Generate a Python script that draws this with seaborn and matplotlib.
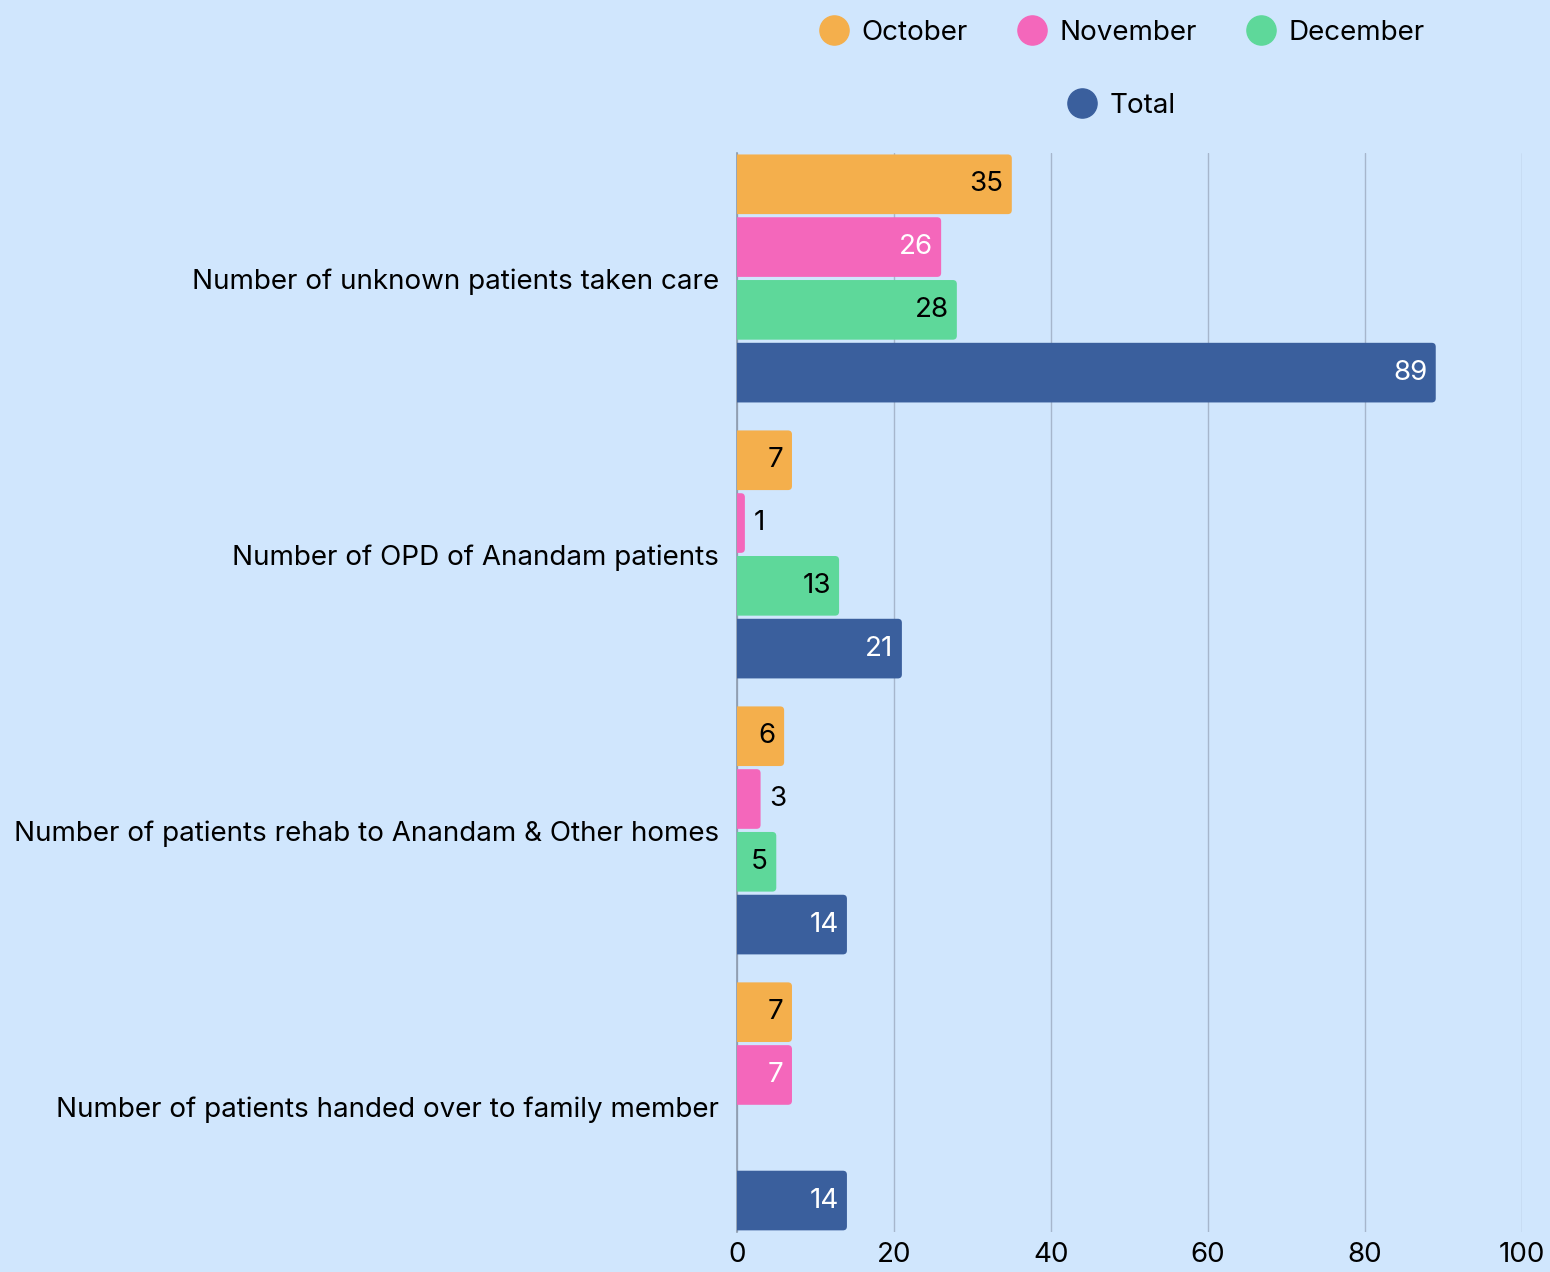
import matplotlib
matplotlib.use("Agg")

import matplotlib.pyplot as plt
import numpy as np
import pandas as pd
import seaborn as sns
from matplotlib.lines import Line2D
from matplotlib.patches import FancyBboxPatch

categories = [
    "Number of unknown patients taken care",
    "Number of OPD of Anandam patients",
    "Number of patients rehab to Anandam & Other homes",
    "Number of patients handed over to family member",
]
months = ["October", "November", "December", "Total"]
october = [35, 7, 6, 7]
november = [26, 1, 3, 7]
december = [28, 13, 5, 0]
total = [89, 21, 14, 14]

colors = ["#F4AF4C", "#F467BB", "#5ED89A", "#3A5F9D"]
label_colors = ["black", "white", "black", "white"]
bg = "#D0E6FD"

df = pd.DataFrame({
    "category": categories * 4,
    "month": np.repeat(months, len(categories)),
    "value": october + november + december + total,
})

sns.set_style("white")
plt.rcParams["font.family"] = ["Inter", "DejaVu Sans"]
plt.rcParams["text.color"] = "black"
plt.rcParams["xtick.color"] = "black"
plt.rcParams["ytick.color"] = "black"
fs = 20

fig = plt.figure(figsize=(15.5, 12.72), dpi=100, facecolor=bg)
ax = fig.add_axes([0.4755, 0.0315, 0.5065, 0.8483], facecolor=bg)

sns.barplot(
    data=df, x="value", y="category", hue="month",
    hue_order=months, palette=colors, orient="h",
    width=0.91, gap=0.05, saturation=1, linewidth=0,
    ax=ax, legend=False,
)

ax.set_xlim(0, 100)
ax.set_ylim(3.455, -0.455)

# rounded right-hand corners: redraw each bar as a rounded box that starts
# left of the axis so the clipped left side stays square
fig.canvas.draw()
px_x = ax.transData.transform((1, 0))[0] - ax.transData.transform((0, 0))[0]
px_y = abs(ax.transData.transform((0, 1))[1] - ax.transData.transform((0, 0))[1])
radius = 4 / px_x
aspect = px_x / px_y

for container, tc in zip(ax.containers, label_colors):
    for bar in container:
        v = bar.get_width()
        bar.set_visible(False)
        if v <= 0:
            continue
        y0, h = bar.get_y(), bar.get_height()
        ax.add_patch(FancyBboxPatch(
            (-2, y0), v + 2, h,
            boxstyle=f"round,pad=0,rounding_size={radius}",
            mutation_aspect=aspect, facecolor=bar.get_facecolor(),
            edgecolor="none", zorder=2,
        ))
        yc = y0 + h / 2
        if v >= 4:
            ax.annotate(f"{v:.0f}", xy=(v, yc), xytext=(-6, 0),
                        textcoords="offset points", ha="right", va="center",
                        color=tc, fontsize=fs, zorder=3)
        else:
            ax.annotate(f"{v:.0f}", xy=(v, yc), xytext=(6, 0),
                        textcoords="offset points", ha="left", va="center",
                        color="black", fontsize=fs, zorder=3)

ax.set_xticks([0, 20, 40, 60, 80, 100])
ax.xaxis.grid(True, color="#A6B6CC", linewidth=1)
ax.set_axisbelow(True)
ax.tick_params(axis="x", length=0, labelsize=fs, pad=7)
ax.tick_params(axis="y", length=0, labelsize=fs, pad=13)
ax.set_xlabel("")
ax.set_ylabel("")
for side in ["top", "right", "bottom"]:
    ax.spines[side].set_visible(False)
ax.spines["left"].set_color("#8C9AAC")
ax.spines["left"].set_linewidth(1.2)
ax.spines["left"].set_zorder(1)

handles = [Line2D([], [], marker="o", linestyle="none", markersize=21,
                  markerfacecolor=c, markeredgecolor=c) for c in colors]
fig.legend(handles[:3], months[:3], loc="center", ncol=3,
           bbox_to_anchor=(0.724, 0.974), frameon=False, fontsize=fs,
           handlelength=1.0, handletextpad=0.5, columnspacing=1.8)
fig.legend(handles[3:], months[3:], loc="center", ncol=1,
           bbox_to_anchor=(0.724, 0.917), frameon=False, fontsize=fs,
           handlelength=1.0, handletextpad=0.5)

fig.savefig("out.png", dpi=100, facecolor=bg)
